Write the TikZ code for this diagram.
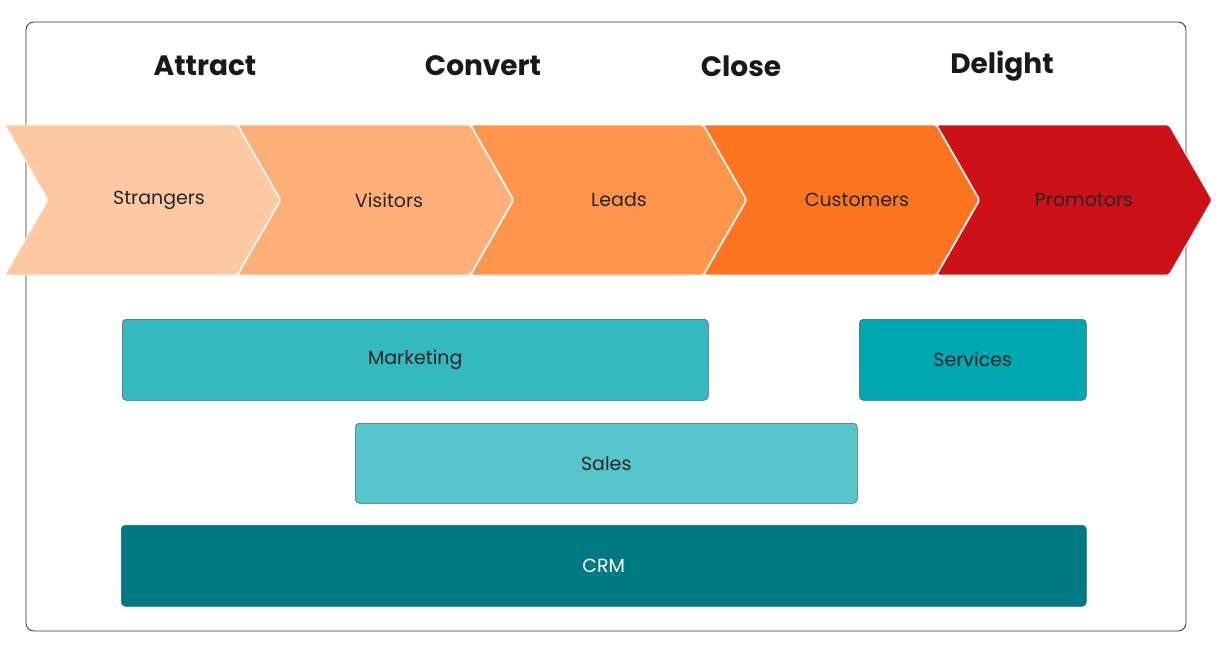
\documentclass[tikz,border=0pt]{standalone}
\usepackage{fontspec}
\setmainfont{Poppins}
\begin{document}
\begin{tikzpicture}[x=1pt,y=-1pt,
 chev/.style={draw=white,line width=0.8pt,rounded corners=2pt},
 lab/.style={font=\fontsize{19}{22}\selectfont,text=black!85},
 head/.style={font=\fontsize{28}{32}\selectfont\bfseries,text=black!90},
 box/.style={draw=black!45!cyan!60!black,line width=0.5pt,rounded corners=4pt,anchor=north west,inner sep=0pt}]
\definecolor{c1}{HTML}{FDC8A2}\definecolor{c2}{HTML}{FEAF78}\definecolor{c3}{HTML}{FE954C}
\definecolor{c4}{HTML}{FD7520}\definecolor{c5}{HTML}{CC1118}
\definecolor{b1}{HTML}{35B8C0}\definecolor{b2}{HTML}{00A7B0}\definecolor{b3}{HTML}{57C5CC}\definecolor{b4}{HTML}{007A82}
\useasboundingbox (0,0) rectangle (1226,656);
\draw[rounded corners=8pt,line width=0.8pt,black!80] (26,22) rectangle (1186,631);
\node[head] (h1) at (205,66) {Attract};
\node[head] (h2) at (483,66) {Convert};
\node[head] (h3) at (741,66) {Close};
\node[head] (h4) at (1002,66) {Delight};
\foreach \i/\c/\t/\tx in {0/c1/Strangers/159,1/c2/Visitors/389,2/c3/Leads/619,3/c4/Customers/857,4/c5/Promotors/1084}{
 \pgfmathsetmacro{\xa}{5+233*\i}
 \pgfmathsetmacro{\xb}{\xa+232}
 \fill[\c,chev] (\xa,125) -- (\xb,125) -- (\xb+43,200) -- (\xb,275) -- (\xa,275) -- (\xa+43,200) -- cycle;
 \node[lab] (s\i) at (\tx,200) {\t};
}
\node[box,fill=b1,minimum width=586pt,minimum height=81pt] (m) at (122,319) {};
\node[lab] at (m.center) {Marketing};
\node[box,fill=b2,minimum width=227pt,minimum height=81pt] (sv) at (859,319) {};
\node[lab] at (sv.center) {Services};
\node[box,fill=b3,minimum width=502pt,minimum height=80pt] (sa) at (355,423) {};
\node[lab] at (sa.center) {Sales};
\node[box,fill=b4,draw=b4,minimum width=965pt,minimum height=81pt] (crm) at (121,525) {};
\node[lab,text=white] at (crm.center) {CRM};
\end{tikzpicture}
\end{document}
